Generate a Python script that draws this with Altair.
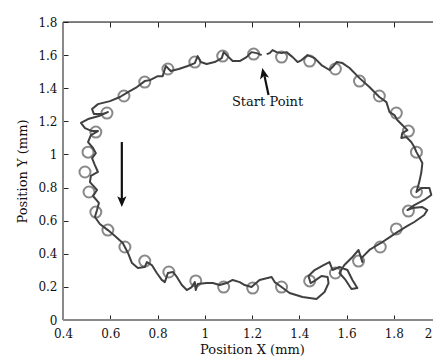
import altair as alt
import pandas as pd

# Trajectory (traversal order, counter-clockwise from the start point)
path_x = [1.241, 1.220, 1.198, 1.177, 1.148, 1.118, 1.097, 1.080, 1.072, 1.042, 1.008, 0.983, 0.970, 0.958,
          0.928, 0.890, 0.856, 0.835, 0.822, 0.801, 0.768, 0.746, 0.713, 0.675, 0.641, 0.599, 0.548, 0.523,
          0.531, 0.569, 0.590, 0.552, 0.506, 0.476, 0.493, 0.523, 0.548, 0.518, 0.506, 0.527, 0.539, 0.523,
          0.535, 0.548, 0.518, 0.514, 0.544, 0.527, 0.552, 0.544, 0.535, 0.556, 0.590, 0.620, 0.653, 0.675,
          0.692, 0.717, 0.746, 0.755, 0.776, 0.797, 0.818, 0.831, 0.844, 0.865, 0.882, 0.903, 0.924, 0.945,
          0.958, 0.962, 0.970, 1.008, 1.034, 1.063, 1.093, 1.118, 1.148, 1.169, 1.198, 1.232, 1.283, 1.296,
          1.325, 1.359, 1.414, 1.473, 1.507, 1.524, 1.520, 1.494, 1.465, 1.448, 1.439, 1.465, 1.503, 1.528,
          1.541, 1.570, 1.604, 1.625, 1.646, 1.621, 1.596, 1.570, 1.591, 1.621, 1.651, 1.667, 1.663, 1.697,
          1.731, 1.752, 1.777, 1.815, 1.858, 1.887, 1.929, 1.942, 1.921, 1.879, 1.858, 1.887, 1.929, 1.959,
          1.951, 1.917, 1.896, 1.908, 1.917, 1.921, 1.908, 1.896, 1.887, 1.874, 1.853, 1.832, 1.836, 1.858,
          1.836, 1.815, 1.803, 1.782, 1.769, 1.739, 1.697, 1.655, 1.613, 1.583, 1.558, 1.541, 1.528, 1.494,
          1.465, 1.435, 1.410, 1.393, 1.372, 1.346, 1.325, 1.304, 1.287, 1.275, 1.262]
path_y = [1.600, 1.612, 1.618, 1.588, 1.564, 1.564, 1.594, 1.618, 1.582, 1.558, 1.546, 1.558, 1.594, 1.552,
          1.534, 1.516, 1.504, 1.534, 1.473, 1.473, 1.449, 1.443, 1.407, 1.377, 1.347, 1.322, 1.304, 1.274,
          1.244, 1.244, 1.256, 1.232, 1.214, 1.190, 1.159, 1.141, 1.141, 1.117, 1.075, 1.039, 1.008, 0.978,
          0.936, 0.894, 0.870, 0.833, 0.785, 0.749, 0.707, 0.664, 0.622, 0.580, 0.543, 0.507, 0.465, 0.405,
          0.344, 0.314, 0.320, 0.350, 0.332, 0.284, 0.242, 0.229, 0.284, 0.290, 0.260, 0.211, 0.181, 0.199,
          0.229, 0.181, 0.217, 0.223, 0.223, 0.211, 0.223, 0.242, 0.229, 0.211, 0.199, 0.242, 0.260, 0.229,
          0.199, 0.163, 0.139, 0.127, 0.169, 0.223, 0.260, 0.266, 0.236, 0.223, 0.266, 0.302, 0.332, 0.350,
          0.302, 0.320, 0.302, 0.242, 0.193, 0.187, 0.242, 0.284, 0.332, 0.374, 0.423, 0.350, 0.374, 0.423,
          0.453, 0.471, 0.495, 0.531, 0.568, 0.592, 0.634, 0.664, 0.682, 0.676, 0.664, 0.694, 0.725, 0.755,
          0.797, 0.797, 0.773, 0.833, 0.894, 0.948, 0.984, 1.014, 1.045, 1.075, 1.105, 1.099, 1.129, 1.147,
          1.178, 1.208, 1.238, 1.256, 1.316, 1.347, 1.407, 1.461, 1.522, 1.552, 1.558, 1.528, 1.510, 1.540,
          1.582, 1.600, 1.570, 1.558, 1.588, 1.618, 1.612, 1.618, 1.630, 1.612, 1.606]

# Sample markers
circ_x = [1.207, 1.076, 0.958, 0.844, 0.746, 0.658, 0.586, 0.539, 0.506, 0.493, 0.510, 0.539, 0.590, 0.662,
          0.746, 0.848, 0.962, 1.080, 1.203, 1.325, 1.444, 1.553, 1.651, 1.743, 1.811, 1.862, 1.896, 1.896,
          1.862, 1.811, 1.739, 1.655, 1.553, 1.444, 1.325]
circ_y = [1.606, 1.594, 1.558, 1.516, 1.437, 1.353, 1.250, 1.135, 1.014, 0.894, 0.773, 0.652, 0.543, 0.441,
          0.356, 0.290, 0.236, 0.199, 0.193, 0.199, 0.236, 0.284, 0.356, 0.441, 0.550, 0.658, 0.773, 1.014,
          1.141, 1.250, 1.353, 1.443, 1.516, 1.564, 1.588]

# Annotations
label_text = ["Start Point"]
label_x = [1.266]
label_y = [1.316]
shaft_x = [1.270, 0.649]
shaft_y = [1.359, 1.075]
shaft_x2 = [1.253, 0.649]
shaft_y2 = [1.473, 0.725]
head_x = [1.249, 0.649]
head_y = [1.486, 0.719]
head_angle = [348, 180]

x_ticks = [0.4, 0.6, 0.8, 1.0, 1.2, 1.4, 1.6, 1.8, 2.0]
y_ticks = [0, 0.2, 0.4, 0.6, 0.8, 1.0, 1.2, 1.4, 1.6, 1.8]

W, H = 378, 298
FONT = "DejaVu Serif, Liberation Serif, Times New Roman, serif"

path_df = pd.DataFrame({"i": range(len(path_x)), "x": path_x, "y": path_y})
circ_df = pd.DataFrame({"x": circ_x, "y": circ_y})
label_df = pd.DataFrame({"t": label_text, "x": label_x, "y": label_y})
arrow_df = pd.DataFrame({"x": shaft_x, "y": shaft_y, "x2": shaft_x2, "y2": shaft_y2,
                         "hx": head_x, "hy": head_y, "a": head_angle})

xs = alt.Scale(domain=[0.4, 2.0], nice=False, zero=False)
ys = alt.Scale(domain=[0, 1.8], nice=False, zero=False)

common_axis = dict(domain=False, tickSize=5, offset=-5, tickColor="#222", tickWidth=1,
                   labelFont=FONT, labelFontSize=12, labelColor="#111", grid=False, labelFlush=False,
                   labelOverlap=False,
                   titleFont=FONT, titleFontSize=13, titleFontWeight="normal", titleColor="#111")


def axis(orient, vals, title=None, labels=True, **kw):
    d = dict(common_axis)
    d["values"] = vals
    d.update(kw)
    d["title"] = title
    return alt.Axis(orient=orient, labels=labels, format="~g", **d)


circles = alt.Chart(circ_df).mark_point(
    shape="circle", size=121, filled=False, stroke="#7d7d7d", strokeWidth=2, opacity=0.9
).encode(
    x=alt.X("x:Q", scale=xs, axis=axis("top", x_ticks, labels=False)),
    y=alt.Y("y:Q", scale=ys, axis=axis("right", y_ticks, labels=False)),
)

line = alt.Chart(path_df).mark_line(color="#404040", strokeWidth=2, strokeJoin="round").encode(
    x=alt.X("x:Q", scale=xs, axis=axis(
        "bottom", x_ticks, "Position X (mm)", labelPadding=8, titlePadding=4,
        labelAlign={"condition": {"test": "datum.value >= 2", "value": "right"}, "value": "center"},
        labelOffset={"condition": {"test": "datum.value >= 2", "value": -9}, "value": 0})),
    y=alt.Y("y:Q", scale=ys, axis=axis("left", y_ticks, "Position Y (mm)", labelPadding=6, titlePadding=8)),
    order="i:Q",
)

shafts = alt.Chart(arrow_df).mark_rule(color="#111", strokeWidth=2.2).encode(
    x=alt.X("x:Q", scale=xs, axis=None), y=alt.Y("y:Q", scale=ys, axis=None),
    x2="x2:Q", y2="y2:Q",
)

heads = alt.Chart(arrow_df).mark_point(
    shape="M0,-1L-0.75,0.75L0,0.35L0.75,0.75Z", filled=True, color="#111", size=150, opacity=1
).encode(
    x=alt.X("hx:Q", scale=xs, axis=None), y=alt.Y("hy:Q", scale=ys, axis=None),
    angle=alt.Angle("a:Q", scale=None),
)

text = alt.Chart(label_df).mark_text(font=FONT, fontSize=13, color="#111", align="center",
                                     baseline="middle").encode(
    x=alt.X("x:Q", scale=xs, axis=None), y=alt.Y("y:Q", scale=ys, axis=None), text="t:N",
)

frame_df = pd.DataFrame({"k": [0]})
left_edge = alt.Chart(frame_df).mark_rule(color="#8a8a8a", strokeWidth=2).encode(
    x=alt.value(0), y=alt.value(0), y2=alt.value(H))
bottom_edge = alt.Chart(frame_df).mark_rule(color="#8a8a8a", strokeWidth=2).encode(
    x=alt.value(0), x2=alt.value(W), y=alt.value(H))
top_edge = alt.Chart(frame_df).mark_rule(color="#111", strokeWidth=1).encode(
    x=alt.value(0), x2=alt.value(W), y=alt.value(0))
right_edge = alt.Chart(frame_df).mark_rule(color="#111", strokeWidth=1).encode(
    x=alt.value(W), y=alt.value(0), y2=alt.value(H))

chart = alt.layer(
    circles, line, shafts, heads, text, left_edge, bottom_edge, top_edge, right_edge
).resolve_axis(x="independent", y="independent").properties(
    width=W, height=H,
    autosize=alt.AutoSizeParams(type="none"),
    padding={"left": 55, "top": 14, "right": -8, "bottom": 50},
).configure_view(stroke=None).configure(background="white")

chart.save("out.html", embed_options={"renderer": "svg", "actions": False})
